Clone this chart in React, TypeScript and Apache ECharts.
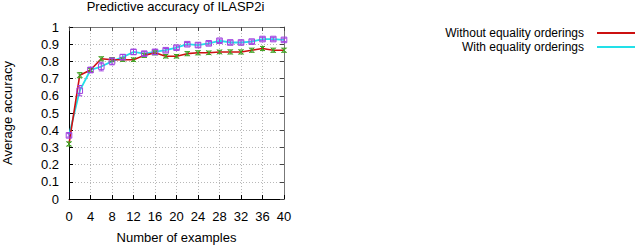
import React, { useEffect, useRef } from "react";
import * as echarts from "echarts";

const examples = [0, 2, 4, 6, 8, 10, 12, 14, 16, 18, 20, 22, 24, 26, 28, 30, 32, 34, 36, 38, 40];
const withoutOrderings = [0.32, 0.72, 0.75, 0.815, 0.81, 0.81, 0.81, 0.835, 0.85, 0.83, 0.83, 0.845, 0.85, 0.85, 0.855, 0.855, 0.855, 0.865, 0.875, 0.865, 0.865];
const withoutErr = [0.012, 0.015, 0.01, 0.012, 0.012, 0.01, 0.01, 0.012, 0.012, 0.01, 0.01, 0.012, 0.012, 0.01, 0.01, 0.012, 0.012, 0.012, 0.012, 0.012, 0.012];
const withOrderings = [0.37, 0.63, 0.75, 0.77, 0.80, 0.825, 0.855, 0.845, 0.855, 0.865, 0.88, 0.90, 0.895, 0.905, 0.92, 0.91, 0.91, 0.915, 0.93, 0.93, 0.925];
const withErr = [0.01, 0.03, 0.015, 0.025, 0.02, 0.015, 0.015, 0.012, 0.015, 0.01, 0.01, 0.01, 0.012, 0.01, 0.01, 0.01, 0.01, 0.01, 0.01, 0.01, 0.01];

const seriesNames = ["Without equality orderings", "With equality orderings"];
const titleText = "Predictive accuracy of ILASP2i";
const xName = "Number of examples";
const yName = "Average accuracy";

const FONT = "'Liberation Sans', Arial, sans-serif";

function errorBarSeries(values: number[], errs: number[], color: string, marker: "x" | "square") {
  return {
    type: "custom",
    silent: true,
    z: 5,
    data: examples.map((x, i) => [x, values[i], errs[i]]),
    renderItem: (params: any, api: any) => {
      const x = api.value(0);
      const y = api.value(1);
      const e = api.value(2);
      const c = api.coord([x, y]);
      const lo = api.coord([x, y - e]);
      const hi = api.coord([x, y + e]);
      const cap = 2.5;
      const style = { stroke: color, lineWidth: 1, fill: "none" };
      const children: any[] = [
        { type: "line", shape: { x1: c[0], y1: lo[1], x2: c[0], y2: hi[1] }, style },
        { type: "line", shape: { x1: c[0] - cap, y1: lo[1], x2: c[0] + cap, y2: lo[1] }, style },
        { type: "line", shape: { x1: c[0] - cap, y1: hi[1], x2: c[0] + cap, y2: hi[1] }, style },
      ];
      if (marker === "x") {
        const s = 2.5;
        children.push({ type: "line", shape: { x1: c[0] - s, y1: c[1] - s, x2: c[0] + s, y2: c[1] + s }, style });
        children.push({ type: "line", shape: { x1: c[0] - s, y1: c[1] + s, x2: c[0] + s, y2: c[1] - s }, style });
      } else {
        const s = 2.8;
        children.push({ type: "rect", shape: { x: c[0] - s, y: c[1] - s, width: 2 * s, height: 2 * s }, style });
      }
      return { type: "group", children };
    },
  };
}

export default function App() {
  const ref = useRef<HTMLDivElement>(null);
  useEffect(() => {
    if (!ref.current) return;
    const chart = echarts.init(ref.current, null, { renderer: "svg" });
    const gridLine = { show: true, lineStyle: { color: "#b8b8b8", type: [1, 2] as any, width: 1 } };
    const legendCommon = {
      right: 5,
      align: "right",
      itemWidth: 38,
      itemHeight: 2,
      itemGap: 0,
      padding: 0,
      icon: "rect",
      textStyle: { fontSize: 12, lineHeight: 12, color: "#000", fontFamily: FONT, padding: [0, 8, 0, 0] },
    };
    const option: any = {
      animation: false,
      backgroundColor: "#ffffff",
      textStyle: { fontFamily: FONT },
      title: {
        text: titleText,
        left: 175.5,
        textAlign: "center",
        top: 0,
        padding: 0,
        textStyle: { fontSize: 13, fontWeight: "normal", color: "#000", fontFamily: FONT },
      },
      legend: [
        { ...legendCommon, data: [seriesNames[0]], top: 27 },
        { ...legendCommon, data: [seriesNames[1]], top: 41 },
      ],
      grid: { left: 67, right: 356, top: 27, bottom: 42, containLabel: false },
      xAxis: [
        {
          type: "value",
          min: 0,
          max: 40,
          interval: 4,
          name: xName,
          nameLocation: "middle",
          nameGap: 32,
          nameTextStyle: { fontSize: 13, color: "#000", fontFamily: FONT },
          axisLine: { show: true, onZero: false, lineStyle: { color: "#000", width: 1 } },
          axisTick: { show: true, inside: true, length: 4, lineStyle: { color: "#000" } },
          axisLabel: { fontSize: 13, color: "#000", margin: 11, fontFamily: FONT },
          splitLine: gridLine,
        },
        {
          type: "value",
          position: "top",
          min: 0,
          max: 40,
          interval: 4,
          axisLine: { show: true, onZero: false, lineStyle: { color: "#777", width: 1 } },
          axisTick: { show: true, inside: true, length: 4, lineStyle: { color: "#444" } },
          axisLabel: { show: false },
          splitLine: { show: false },
        },
      ],
      yAxis: [
        {
          type: "value",
          min: 0,
          max: 1,
          interval: 0.1,
          name: yName,
          nameLocation: "middle",
          nameGap: 55,
          nameRotate: 90,
          nameTextStyle: { fontSize: 13, color: "#000", fontFamily: FONT },
          axisLine: { show: true, onZero: false, lineStyle: { color: "#000", width: 1 } },
          axisTick: { show: true, inside: true, length: 4, lineStyle: { color: "#000" } },
          axisLabel: { fontSize: 13, color: "#000", margin: 10, fontFamily: FONT },
          splitLine: gridLine,
        },
        {
          type: "value",
          position: "right",
          min: 0,
          max: 1,
          interval: 0.1,
          axisLine: { show: true, onZero: false, lineStyle: { color: "#777", width: 1 } },
          axisTick: { show: true, inside: true, length: 4, lineStyle: { color: "#444" } },
          axisLabel: { show: false },
          splitLine: { show: false },
        },
      ],
      series: [
        {
          name: seriesNames[1],
          type: "line",
          data: examples.map((x, i) => [x, withOrderings[i]]),
          showSymbol: false,
          symbol: "none",
          color: "#22e0e8",
          lineStyle: { color: "#22e0e8", width: 1.8 },
          z: 3,
        },
        {
          name: seriesNames[0],
          type: "line",
          data: examples.map((x, i) => [x, withoutOrderings[i]]),
          showSymbol: false,
          symbol: "none",
          color: "#cc1010",
          lineStyle: { color: "#cc1010", width: 1.6 },
          z: 4,
        },
        errorBarSeries(withoutOrderings, withoutErr, "#40a020", "x"),
        errorBarSeries(withOrderings, withErr, "#a040e0", "square"),
      ],
    };
    chart.setOption(option);
    return () => chart.dispose();
  }, []);
  return <div ref={ref} style={{ position: "absolute", left: 0, top: 0, width: 640, height: 249 }} />;
}
